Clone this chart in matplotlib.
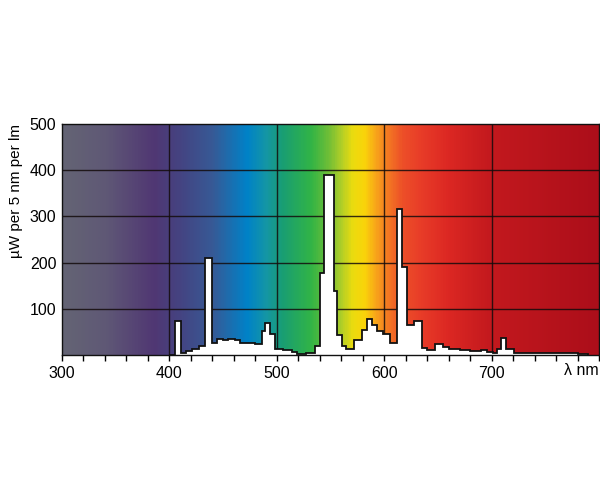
import numpy as np
import matplotlib
matplotlib.use("Agg")
import matplotlib.pyplot as plt
from matplotlib.colors import LinearSegmentedColormap

plt.rcParams['font.family'] = ['Liberation Sans', 'DejaVu Sans']

# left edge of each 5 nm-ish bin (nm) and its value (uW per 5 nm per lm)
bin_edges = [400, 405, 410.5, 415.5, 421, 428, 433, 440, 444, 450, 455, 461,
             465.5, 473.5, 479.5, 486, 489, 493.5, 498, 506, 514, 518.5, 527.5,
             536, 540.5, 544, 553, 556, 560.5, 564, 571.5, 579.5, 584, 588.5,
             593.5, 599, 605.5, 612, 617, 621, 628, 635, 640, 647.5, 654.5, 660,
             666, 671, 680, 690, 696, 701, 705, 709, 713, 720.5, 780]
bin_values = [0, 74, 5, 9, 14, 20, 210, 27, 35, 32, 35, 32,
              27, 26, 24, 51, 70, 45, 13, 10, 6, 2, 5,
              20, 177, 390, 138, 43, 20, 12, 32, 54, 78, 65,
              53, 46, 27, 317, 190, 65, 74, 15, 11, 23, 17, 14,
              14, 11, 9, 10, 7, 4, 14, 37, 12, 5, 1.5]

x_ticks = [300, 400, 500, 600, 700]
y_ticks = [100, 200, 300, 400, 500]

# background spectrum colours (wavelength, rgb)
spectrum = [
    (300, (100, 100, 116)), (340, (95, 88, 118)), (385, (80, 55, 115)),
    (410, (68, 68, 130)), (440, (55, 90, 150)), (472, (0, 130, 200)),
    (490, (20, 150, 165)), (505, (25, 158, 115)), (532, (50, 180, 70)),
    (548, (110, 190, 55)), (560, (175, 206, 40)), (571, (235, 220, 15)),
    (582, (250, 212, 10)), (592, (248, 168, 25)), (604, (243, 120, 35)),
    (617, (237, 80, 40)), (635, (232, 60, 40)), (660, (220, 40, 35)),
    (700, (195, 25, 30)), (800, (172, 14, 26)),
]


def main():
    fig = plt.figure(figsize=(6, 5), dpi=100)
    ax = fig.add_axes([0.1033, 0.29, 0.895, 0.462])

    pos = [(w - 300) / 500 for w, _ in spectrum]
    cols = [tuple(c / 255 for c in rgb) for _, rgb in spectrum]
    cmap = LinearSegmentedColormap.from_list("spec", list(zip(pos, cols)))
    grad = np.linspace(0, 1, 600).reshape(1, -1)
    ax.imshow(grad, cmap=cmap, aspect='auto', extent=[300, 800, 0, 500],
              zorder=0, interpolation='bilinear')

    for x in [400, 500, 600, 700]:
        ax.axvline(x, color='#140c0c', lw=1.0, alpha=0.85, zorder=1)
    for y in [100, 200, 300, 400]:
        ax.axhline(y, color='#140c0c', lw=1.0, alpha=0.85, zorder=1)

    edges = bin_edges + [790]
    ax.stairs(bin_values, edges, fill=True, facecolor='white', zorder=2)
    ax.stairs(bin_values, edges, color='#111111', lw=1.3, zorder=3)

    ax.set_xlim(300, 800)
    ax.set_ylim(0, 500)
    ax.set_xticks(x_ticks + [800])
    ax.set_xticklabels([str(t) for t in x_ticks] + [""])
    ax.set_xticks(np.arange(300, 801, 20), minor=True)
    ax.set_yticks(y_ticks)
    ax.set_yticklabels([str(t) for t in y_ticks])
    ax.tick_params(axis='x', which='both', direction='out', length=4,
                   width=1, labelsize=11.5, pad=4)
    ax.tick_params(axis='y', length=0, labelsize=11.5, pad=4)
    for s in ax.spines.values():
        s.set_linewidth(1.0)
        s.set_color('#111111')

    ax.text(1.0, -0.035, "λ nm", transform=ax.transAxes, ha='right',
            va='top', fontsize=11.5)
    ax.set_ylabel("µW per 5 nm per lm", fontsize=11, labelpad=8)
    ax.yaxis.set_label_coords(-0.072, 0.71)

    fig.savefig("out.png", dpi=100)


if __name__ == '__main__':
    main()
